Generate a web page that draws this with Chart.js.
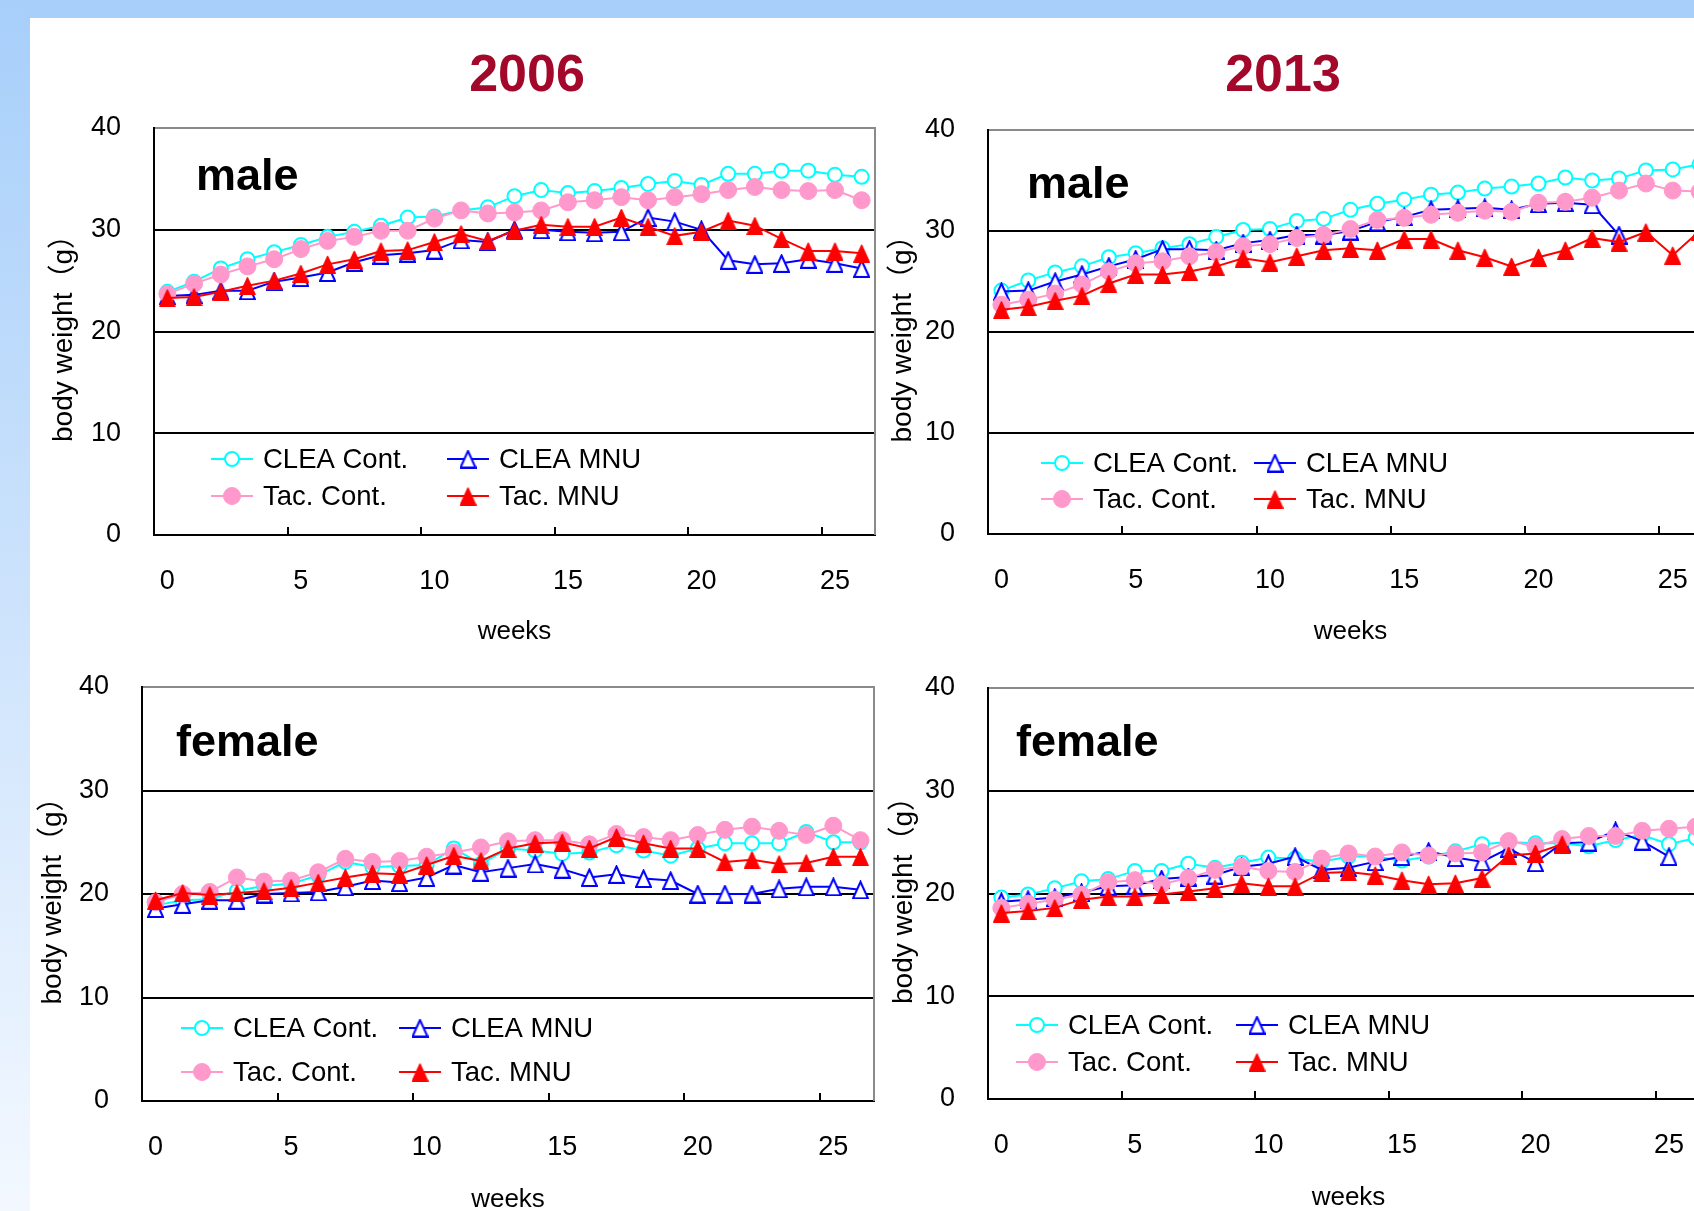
<!DOCTYPE html>
<html>
<head>
<meta charset="utf-8">
<script src="https://cdn.jsdelivr.net/npm/chart.js@4.4.1/dist/chart.umd.min.js"></script>
<style>
html,body{margin:0;padding:0;background:#fff;overflow:hidden;width:1694px;height:1211px;position:relative}
#topband{position:absolute;left:0;top:0;width:1694px;height:18px;background:#a7cffa}
#leftband{position:absolute;left:0;top:0;width:30px;height:1211px;background:linear-gradient(to bottom,#a7cffa 0%,#cde3fc 50%,#f3f8ff 100%)}
.year{position:absolute;width:300px;text-align:center;font:bold 52px 'Liberation Sans',Arial,sans-serif;line-height:52px;color:#a3082b}
canvas{position:absolute}
</style>
</head>
<body>
<div id="topband"></div>
<div id="leftband"></div>
<div class="year" id="year0" style="left:377px;top:47px"></div>
<div class="year" id="year1" style="left:1133px;top:47px"></div>
<canvas id="c1"></canvas>
<canvas id="c2"></canvas>
<canvas id="c3"></canvas>
<canvas id="c4"></canvas>
<script>
// ---------- data ----------
const weeks = ['0','1','2','3','4','5','6','7','8','9','10','11','12','13','14','15','16','17','18','19','20','21','22','23','24','25','26'];
const yTicks = [0, 10, 20, 30, 40];
const seriesNames = ['CLEA Cont.', 'CLEA MNU', 'Tac. Cont.', 'Tac. MNU'];
const yearTitles = ['2006', '2013'];
const sexLabels = ['male', 'female'];
const xAxisTitle = 'weeks';
const yAxisTitle = 'body weight（g）';

// 2006 male
const cleaCont2006Male = [23.9, 24.9, 26.2, 27.1, 27.8, 28.5, 29.3, 29.8, 30.4, 31.2, 31.3, 31.9, 32.2, 33.3, 33.9, 33.6, 33.8, 34.1, 34.5, 34.8, 34.4, 35.5, 35.5, 35.8, 35.8, 35.4, 35.2];
const cleaMnu2006Male  = [23.5, 23.6, 24.0, 24.0, 24.9, 25.3, 25.8, 26.8, 27.5, 27.7, 28.0, 29.0, 28.8, 30.0, 30.0, 29.8, 29.7, 29.8, 31.2, 30.8, 30.0, 27.0, 26.6, 26.7, 27.1, 26.7, 26.2];
const tacCont2006Male  = [23.7, 24.7, 25.6, 26.4, 27.1, 28.1, 28.9, 29.3, 29.9, 29.9, 31.1, 31.9, 31.6, 31.7, 31.9, 32.7, 32.9, 33.2, 32.9, 33.2, 33.5, 33.9, 34.2, 33.9, 33.8, 33.9, 32.9];
const tacMnu2006Male   = [23.3, 23.4, 23.9, 24.5, 25.0, 25.7, 26.6, 27.1, 27.9, 28.0, 28.8, 29.6, 28.9, 29.9, 30.5, 30.3, 30.3, 31.2, 30.3, 29.4, 29.8, 30.9, 30.4, 29.1, 27.9, 27.9, 27.7];
// 2013 male
const cleaCont2013Male = [24.1, 25.1, 25.9, 26.5, 27.4, 27.8, 28.3, 28.7, 29.4, 30.1, 30.2, 31.0, 31.2, 32.1, 32.7, 33.1, 33.6, 33.8, 34.2, 34.4, 34.7, 35.3, 35.0, 35.2, 36.0, 36.1, 36.6];
const cleaMnu2013Male  = [24.0, 24.1, 25.0, 25.7, 26.5, 27.2, 28.2, 28.2, 28.1, 28.8, 29.1, 29.6, 29.6, 30.0, 30.9, 31.4, 32.1, 32.2, 32.3, 32.1, 32.7, 32.8, 32.6, 29.6, null, null, null];
const tacCont2013Male  = [22.7, 23.2, 23.8, 24.7, 26.0, 26.8, 27.0, 27.5, 27.9, 28.5, 28.7, 29.3, 29.6, 30.2, 31.1, 31.3, 31.6, 31.8, 32.0, 31.9, 32.8, 32.9, 33.3, 34.0, 34.7, 34.0, 33.9];
const tacMnu2013Male   = [22.2, 22.5, 23.1, 23.6, 24.8, 25.7, 25.7, 26.0, 26.5, 27.3, 26.9, 27.5, 28.1, 28.3, 28.1, 29.2, 29.2, 28.1, 27.4, 26.5, 27.4, 28.1, 29.3, 28.9, 29.9, 27.6, 30.0];
// 2006 female
const cleaCont2006Female = [18.9, 19.4, 19.5, 20.3, 20.8, 21.0, 21.8, 23.1, 22.6, 22.7, 22.8, 24.4, 22.9, 24.4, 24.2, 23.9, 24.0, 24.7, 24.2, 23.7, 24.4, 24.9, 24.9, 24.9, 26.0, 25.0, 25.0];
const cleaMnu2006Female  = [18.6, 19.0, 19.4, 19.4, 20.0, 20.1, 20.2, 20.7, 21.3, 21.1, 21.6, 22.8, 22.1, 22.5, 22.9, 22.4, 21.6, 21.9, 21.5, 21.3, 20.0, 20.0, 20.0, 20.5, 20.7, 20.7, 20.4];
const tacCont2006Female  = [19.2, 20.0, 20.2, 21.6, 21.2, 21.3, 22.1, 23.4, 23.1, 23.2, 23.6, 24.0, 24.5, 25.1, 25.2, 25.2, 24.8, 25.8, 25.5, 25.2, 25.7, 26.2, 26.5, 26.1, 25.7, 26.6, 25.2];
const tacMnu2006Female   = [19.4, 20.1, 19.9, 20.1, 20.3, 20.6, 21.1, 21.6, 22.0, 21.9, 22.8, 23.7, 23.2, 24.4, 24.9, 25.0, 24.4, 25.5, 24.9, 24.4, 24.4, 23.1, 23.3, 22.9, 23.0, 23.6, 23.6];
// 2013 female
const cleaCont2013Female = [19.6, 19.9, 20.5, 21.2, 21.4, 22.2, 22.2, 22.9, 22.5, 23.0, 23.5, 23.4, 23.1, 23.6, 23.6, 23.2, 23.6, 24.1, 24.8, 25.0, 24.9, 24.9, 24.6, 25.2, 25.7, 24.8, 25.4];
const cleaMnu2013Female  = [19.2, 19.4, 19.6, 20.1, 20.7, 20.8, 21.4, 21.6, 21.8, 22.6, 22.9, 23.6, 22.3, 22.5, 23.1, 23.6, 24.1, 23.5, 23.1, 24.4, 23.0, 24.9, 25.0, 26.1, 25.1, 23.6, null];
const tacCont2013Female  = [18.6, 19.0, 19.4, 19.9, 21.1, 21.3, 20.9, 21.5, 22.3, 22.6, 22.2, 22.1, 23.4, 23.9, 23.6, 24.0, 23.7, 23.9, 24.0, 25.1, 24.6, 25.3, 25.6, 25.6, 26.1, 26.3, 26.5];
const tacMnu2013Female   = [18.1, 18.3, 18.6, 19.4, 19.7, 19.7, 19.9, 20.2, 20.5, 21.0, 20.7, 20.7, 22.0, 22.1, 21.8, 21.3, 20.9, 21.0, 21.5, 23.7, 23.9, 24.8, null, null, null, null, null];

// ---------- styling ----------
const FONT = "'Liberation Sans', Arial, sans-serif";
const YTITLE_FONT = "'Liberation Sans', 'Noto Sans CJK JP', sans-serif";

function makeTriangle(fill, stroke, w, h, lw) {
  const c = document.createElement('canvas');
  c.width = w; c.height = h;
  const g = c.getContext('2d');
  g.beginPath();
  g.moveTo(w / 2, lw / 2 + 0.5);
  g.lineTo(w - lw / 2, h - lw / 2);
  g.lineTo(lw / 2, h - lw / 2);
  g.closePath();
  g.fillStyle = fill; g.fill();
  g.lineWidth = lw; g.strokeStyle = stroke; g.lineJoin = 'miter'; g.stroke();
  return c;
}
const triOpenBlue = makeTriangle('#ffffff', '#0000ff', 17, 19, 2);
const triFillRed = makeTriangle('#ff0000', '#ff0000', 17, 19, 1);

const seriesStyles = [
  {borderColor:'#00ffff', borderWidth:2, pointStyle:'circle', pointRadius:7, pointBorderWidth:2, pointBackgroundColor:'#ffffff', pointBorderColor:'#00ffff'},
  {borderColor:'#0000ff', borderWidth:2, pointStyle:triOpenBlue, pointRadius:8, pointBorderWidth:0, pointBackgroundColor:'#ffffff', pointBorderColor:'#0000ff'},
  {borderColor:'#ff99cc', borderWidth:2, pointStyle:'circle', pointRadius:8.5, pointBorderWidth:1, pointBackgroundColor:'#ff99cc', pointBorderColor:'#ff99cc'},
  {borderColor:'#ff0000', borderWidth:2, pointStyle:triFillRed, pointRadius:8, pointBorderWidth:0, pointBackgroundColor:'#ff0000', pointBorderColor:'#ff0000'}
];

// ---------- layout (per panel) ----------
const PAD_TOP = 24;
const panels = [
  {id:'c1', sex:0, series:[cleaCont2006Male, cleaMnu2006Male, tacCont2006Male, tacMnu2006Male],
   cx:47, cy:104, cw:838, ch:543, yW:107, xH:112, labelDx:42, labelDy:62, rows:[-76,-39], cols:[57,293]},
  {id:'c2', sex:0, series:[cleaCont2013Male, cleaMnu2013Male, tacCont2013Male, tacMnu2013Male],
   cx:886, cy:106, cw:837, ch:541, yW:102, xH:113, labelDx:39, labelDy:68, rows:[-71,-35], cols:[53,266]},
  {id:'c3', sex:1, series:[cleaCont2006Female, cleaMnu2006Female, tacCont2006Female, tacMnu2006Female],
   cx:36, cy:663, cw:848, ch:552, yW:106, xH:114, labelDx:34, labelDy:69, rows:[-73,-29], cols:[39,257]},
  {id:'c4', sex:1, series:[cleaCont2013Female, cleaMnu2013Female, tacCont2013Female, tacMnu2013Female],
   cx:887, cy:664, cw:832, ch:549, yW:101, xH:114, labelDx:28, labelDy:68, rows:[-74,-37], cols:[28,248]}
];

function drawMarker(ctx, ds, x, y) {
  const st = ds.pointStyle;
  if (typeof st === 'object') {
    ctx.drawImage(st, x - st.width / 2, y - st.height / 2);
    return;
  }
  ctx.beginPath();
  ctx.arc(x, y, ds.pointRadius, 0, Math.PI * 2);
  ctx.fillStyle = ds.pointBackgroundColor; ctx.fill();
  if (ds.pointBorderWidth > 0) {
    ctx.lineWidth = ds.pointBorderWidth; ctx.strokeStyle = ds.pointBorderColor; ctx.stroke();
  }
}

const panelDecor = {
  id: 'panelDecor',
  afterDatasetsDraw(chart, args, opts) {
    const ctx = chart.ctx, a = chart.chartArea;
    ctx.save();
    // right frame of plot area
    ctx.strokeStyle = '#8a8a8a'; ctx.lineWidth = 2;
    ctx.beginPath(); ctx.moveTo(a.right, a.top - 1); ctx.lineTo(a.right, a.bottom); ctx.stroke();
    // sex label
    ctx.fillStyle = '#000'; ctx.textAlign = 'left'; ctx.textBaseline = 'alphabetic';
    ctx.font = 'bold 45px ' + FONT;
    ctx.fillText(opts.label, a.left + opts.labelDx, a.top + opts.labelDy);
    // legend (2 x 2)
    ctx.font = '27.5px ' + FONT; ctx.textBaseline = 'middle';
    chart.data.datasets.forEach((ds, i) => {
      const col = i % 2, row = Math.floor(i / 2);
      const x0 = a.left + opts.cols[col], y0 = a.bottom + opts.rows[row];
      ctx.strokeStyle = ds.borderColor; ctx.lineWidth = ds.borderWidth;
      ctx.beginPath(); ctx.moveTo(x0, y0); ctx.lineTo(x0 + 42, y0); ctx.stroke();
      drawMarker(ctx, ds, x0 + 21, y0);
      ctx.fillStyle = '#000';
      ctx.fillText(ds.label, x0 + 52, y0 + 1);
    });
    ctx.restore();
  }
};

document.getElementById('year0').textContent = yearTitles[0];
document.getElementById('year1').textContent = yearTitles[1];

panels.forEach(p => {
  const canvas = document.getElementById(p.id);
  canvas.width = p.cw; canvas.height = p.ch;
  canvas.style.left = p.cx + 'px'; canvas.style.top = p.cy + 'px';
  canvas.style.width = p.cw + 'px'; canvas.style.height = p.ch + 'px';
  const tickCol = c => (c.index !== undefined && c.index > 0 && c.index % 5 === 0) ? '#000000' : 'rgba(0,0,0,0)';
  new Chart(canvas, {
    type: 'line',
    data: {
      labels: weeks,
      datasets: seriesNames.map((name, i) => Object.assign({
        label: name, data: p.series[i], order: 3 - i, tension: 0, spanGaps: false
      }, seriesStyles[i]))
    },
    options: {
      responsive: false, animation: false, devicePixelRatio: 1,
      layout: {padding: {top: PAD_TOP, right: 10, left: 0, bottom: 0}},
      plugins: {
        legend: {display: false}, tooltip: {enabled: false}, title: {display: false},
        panelDecor: {label: sexLabels[p.sex], labelDx: p.labelDx, labelDy: p.labelDy, rows: p.rows, cols: p.cols}
      },
      scales: {
        x: {
          type: 'category', offset: true,
          grid: {offset: true, drawOnChartArea: false, drawTicks: true, tickLength: -8, lineWidth: 2, tickWidth: 2, color: tickCol, tickColor: tickCol},
          border: {display: true, color: '#000', width: 2},
          ticks: {autoSkip: false, maxRotation: 0, minRotation: 0, padding: 38, color: '#000', font: {family: FONT, size: 27},
                  callback: (v, i) => (i % 5 === 0 ? weeks[i] : '')},
          title: {display: true, text: xAxisTitle, color: '#000', font: {family: FONT, size: 26}, padding: 0},
          afterFit: s => { s.height = p.xH; s.paddingLeft = 0; s.paddingRight = 0; }
        },
        y: {
          min: 0, max: 40,
          afterBuildTicks: s => { s.ticks = yTicks.map(v => ({value: v})); },
          ticks: {padding: 33, color: '#000', font: {family: FONT, size: 27}},
          grid: {color: c => (c.tick && c.tick.value === 40) ? '#8a8a8a' : '#000000', lineWidth: 2, drawTicks: false},
          border: {display: true, color: '#000', width: 2},
          title: {display: true, text: yAxisTitle, color: '#000', font: {family: YTITLE_FONT, size: 28}, padding: 0},
          afterFit: s => { s.width = p.yW; s.paddingTop = 0; s.paddingBottom = 0; }
        }
      }
    },
    plugins: [panelDecor]
  });
});
</script>
</body>
</html>
